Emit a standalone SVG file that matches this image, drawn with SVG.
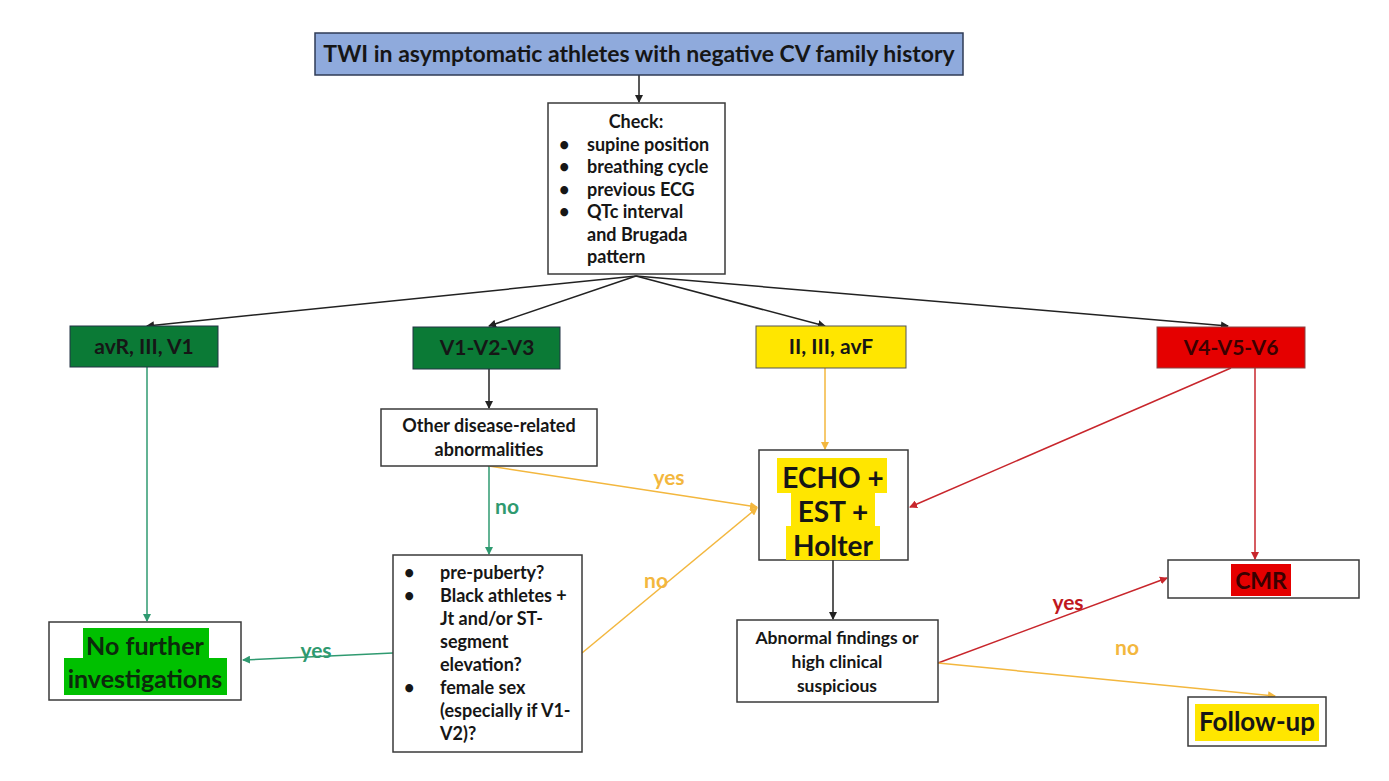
<svg xmlns="http://www.w3.org/2000/svg" width="1389" height="781" viewBox="0 0 1389 781">
<style>
text{font-family:Lato,"Liberation Sans",sans-serif;font-weight:bold;fill:#161616}
.box{fill:#fff;stroke:#3a3a3a;stroke-width:1.5}
.c{text-anchor:middle}
.lk{fill:none;stroke-width:1.5}
.k{stroke:#222}
.g{stroke:#2f9a70}
.o{stroke:#f3b73e}
.r{stroke:#c8262c}
.lg{fill:#2f9a70;font-size:21px}
.lo{fill:#f3b73e;font-size:21px}
.lr{fill:#c0181e;font-size:21px}
.n{font-size:18px}
.h{font-size:21px}
</style>
<defs>
<marker id="ak" markerWidth="8" markerHeight="8" refX="7" refY="4" orient="auto" markerUnits="userSpaceOnUse"><path d="M0,0L8,4L0,8z" fill="#222"/></marker>
<marker id="ag" markerWidth="8" markerHeight="8" refX="7" refY="4" orient="auto" markerUnits="userSpaceOnUse"><path d="M0,0L8,4L0,8z" fill="#2f9a70"/></marker>
<marker id="ao" markerWidth="8" markerHeight="8" refX="7" refY="4" orient="auto" markerUnits="userSpaceOnUse"><path d="M0,0L8,4L0,8z" fill="#f3b73e"/></marker>
<marker id="ar" markerWidth="8" markerHeight="8" refX="7" refY="4" orient="auto" markerUnits="userSpaceOnUse"><path d="M0,0L8,4L0,8z" fill="#c8262c"/></marker>
</defs>
<rect width="1389" height="781" fill="#fff"/>
<g id="connectors">
<line class="lk k" x1="639" y1="75" x2="639" y2="102" marker-end="url(#ak)"/>
<line class="lk k" x1="636" y1="276" x2="147" y2="326" marker-end="url(#ak)"/>
<line class="lk k" x1="636" y1="276" x2="489" y2="326" marker-end="url(#ak)"/>
<line class="lk k" x1="636" y1="276" x2="825" y2="326" marker-end="url(#ak)"/>
<line class="lk k" x1="636" y1="276" x2="1228" y2="326" marker-end="url(#ak)"/>
<line class="lk g" x1="147" y1="367" x2="147" y2="621" marker-end="url(#ag)"/>
<line class="lk k" x1="489" y1="369" x2="489" y2="408" marker-end="url(#ak)"/>
<line class="lk g" x1="489" y1="466" x2="489" y2="554" marker-end="url(#ag)"/>
<line class="lk o" x1="489" y1="466" x2="757" y2="507" marker-end="url(#ao)"/>
<line class="lk o" x1="582" y1="653" x2="757" y2="508" marker-end="url(#ao)"/>
<line class="lk g" x1="393" y1="653" x2="243" y2="660" marker-end="url(#ag)"/>
<line class="lk o" x1="825" y1="368" x2="825" y2="449" marker-end="url(#ao)"/>
<line class="lk r" x1="1231" y1="368" x2="910" y2="507" marker-end="url(#ar)"/>
<line class="lk r" x1="1255" y1="368" x2="1255" y2="559" marker-end="url(#ar)"/>
<line class="lk k" x1="833" y1="560" x2="833" y2="619" marker-end="url(#ak)"/>
<line class="lk r" x1="938" y1="663" x2="1167" y2="578" marker-end="url(#ar)"/>
<line class="lk o" x1="938" y1="663" x2="1275" y2="696" marker-end="url(#ao)"/>
<text class="lg" x="507" y="514" text-anchor="middle">no</text>
<text class="lo" x="669" y="485" text-anchor="middle">yes</text>
<text class="lo" x="656" y="588" text-anchor="middle">no</text>
<text class="lg" x="316" y="658" text-anchor="middle">yes</text>
<text class="lr" x="1068" y="610" text-anchor="middle">yes</text>
<text class="lo" x="1127" y="655" text-anchor="middle">no</text>
</g>
<g id="title">
<rect x="315" y="33" width="648" height="42" fill="#8faadc" stroke="#2f3b55" stroke-width="1.5"/>
<text class="c" x="639" y="62" font-size="23">TWI in asymptomatic athletes with negative CV family history</text>
</g>
<g id="check">
<rect class="box" x="548" y="103" width="177" height="171"/>
<text class="c n" x="636" y="128">Check:</text>
<text class="n" x="559" y="151">•</text><text class="n" x="587" y="151">supine position</text>
<text class="n" x="559" y="173">•</text><text class="n" x="587" y="173">breathing cycle</text>
<text class="n" x="559" y="196">•</text><text class="n" x="587" y="196">previous ECG</text>
<text class="n" x="559" y="218">•</text><text class="n" x="587" y="218">QTc interval</text>
<text class="n" x="587" y="241">and Brugada</text>
<text class="n" x="587" y="263">pattern</text>
</g>
<g id="avr">
<rect x="70" y="326" width="148" height="41" fill="#0b7a36" stroke="#234" stroke-width="1"/>
<text class="c h" x="144" y="354">avR, III, V1</text>
</g>
<g id="v123">
<rect x="413" y="327" width="147" height="42" fill="#0b7a36" stroke="#234" stroke-width="1"/>
<text class="c h" x="487" y="355">V1-V2-V3</text>
</g>
<g id="avf">
<rect x="756" y="326" width="150" height="42" fill="#ffe600" stroke="#555" stroke-width="1"/>
<text class="c h" x="831" y="354">II, III, avF</text>
</g>
<g id="v456">
<rect x="1157" y="327" width="148" height="41" fill="#e50000" stroke="#844" stroke-width="1"/>
<text class="c h" x="1231" y="355" style="fill:#3a0000">V4-V5-V6</text>
</g>
<g id="other">
<rect class="box" x="381" y="409" width="216" height="57"/>
<text class="c n" x="489" y="432">Other disease-related</text>
<text class="c n" x="489" y="456">abnormalities</text>
</g>
<g id="criteria">
<rect class="box" x="393" y="555" width="189" height="197"/>
<text class="n" x="404" y="579">•</text><text class="n" x="440" y="579">pre-puberty?</text>
<text class="n" x="404" y="602">•</text><text class="n" x="440" y="602">Black athletes +</text>
<text class="n" x="440" y="625">Jt and/or ST-</text>
<text class="n" x="440" y="648">segment</text>
<text class="n" x="440" y="671">elevation?</text>
<text class="n" x="404" y="694">•</text><text class="n" x="440" y="694">female sex</text>
<text class="n" x="440" y="717">(especially if V1-</text>
<text class="n" x="440" y="740">V2)?</text>
</g>
<g id="nofurther">
<rect class="box" x="49" y="622" width="192" height="78"/>
<rect x="83" y="628" width="126" height="32" fill="#00c000"/>
<rect x="64" y="658" width="163" height="37" fill="#00c000"/>
<text class="c" x="145" y="655" font-size="25" style="fill:#0c2a0c">No further</text>
<text class="c" x="145" y="688" font-size="25" style="fill:#0c2a0c">investigations</text>
</g>
<g id="echo">
<rect class="box" x="759" y="450" width="149" height="110"/>
<rect x="777" y="458" width="110" height="35" fill="#ffe600"/>
<rect x="791" y="492" width="84" height="35" fill="#ffe600"/>
<rect x="786" y="526" width="94" height="34" fill="#ffe600"/>
<text class="c" x="833" y="488" font-size="28">ECHO +</text>
<text class="c" x="833" y="522" font-size="28">EST +</text>
<text class="c" x="833" y="556" font-size="28">Holter</text>
</g>
<g id="abnormal">
<rect class="box" x="737" y="620" width="201" height="82"/>
<text class="c" x="837" y="644" font-size="17.5">Abnormal findings or</text>
<text class="c" x="837" y="668" font-size="17.5">high clinical</text>
<text class="c" x="837" y="692" font-size="17.5">suspicious</text>
</g>
<g id="cmr">
<rect class="box" x="1168" y="560" width="191" height="38"/>
<rect x="1231" y="564" width="60" height="32" fill="#e50000"/>
<text class="c" x="1261" y="589" font-size="23" style="fill:#3a0000">CMR</text>
</g>
<g id="followup">
<rect class="box" x="1188" y="697" width="138" height="49"/>
<rect x="1195" y="704" width="124" height="37" fill="#ffe600"/>
<text class="c" x="1257" y="731" font-size="26">Follow-up</text>
</g>
</svg>
